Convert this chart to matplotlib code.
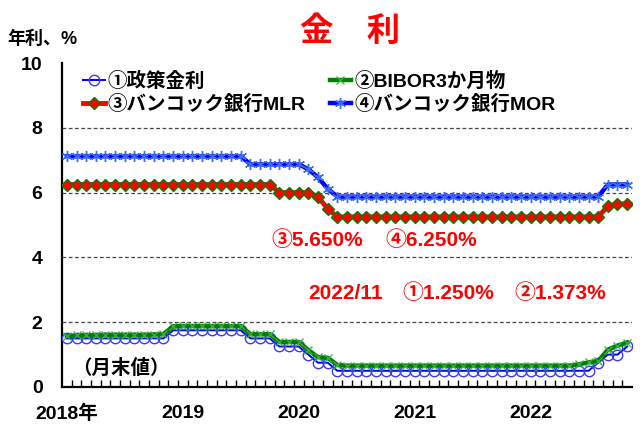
import numpy as np
import matplotlib
matplotlib.use("Agg")
import matplotlib.pyplot as plt

plt.rcParams['font.family'] = ['Liberation Sans', 'Noto Sans CJK JP', 'DejaVu Sans']
plt.rcParams['font.weight'] = 'bold'

# 月末値 2018/01 - 2022/11
months = [f"{y}/{m:02d}" for y in range(2018, 2023) for m in range(1, 13)][:59]

policy = [1.50, 1.50, 1.50, 1.50, 1.50, 1.50, 1.50, 1.50, 1.50, 1.50, 1.50, 1.75,
          1.75, 1.75, 1.75, 1.75, 1.75, 1.75, 1.75, 1.50, 1.50, 1.50, 1.25, 1.25,
          1.25, 1.00, 0.75, 0.75, 0.50, 0.50, 0.50, 0.50, 0.50, 0.50, 0.50, 0.50,
          0.50, 0.50, 0.50, 0.50, 0.50, 0.50, 0.50, 0.50, 0.50, 0.50, 0.50, 0.50,
          0.50, 0.50, 0.50, 0.50, 0.50, 0.50, 0.50, 0.75, 1.00, 1.00, 1.25]

bibor = [1.58, 1.59, 1.60, 1.60, 1.61, 1.61, 1.61, 1.61, 1.61, 1.62, 1.63, 1.87,
         1.88, 1.88, 1.88, 1.88, 1.88, 1.88, 1.88, 1.63, 1.63, 1.63, 1.39, 1.39,
         1.39, 1.14, 0.92, 0.90, 0.68, 0.66, 0.66, 0.66, 0.66, 0.66, 0.66, 0.66,
         0.66, 0.66, 0.66, 0.66, 0.66, 0.66, 0.66, 0.66, 0.66, 0.66, 0.66, 0.66,
         0.66, 0.66, 0.66, 0.66, 0.66, 0.70, 0.76, 0.80, 1.15, 1.28, 1.373]

mlr = [6.25, 6.25, 6.25, 6.25, 6.25, 6.25, 6.25, 6.25, 6.25, 6.25, 6.25, 6.25,
       6.25, 6.25, 6.25, 6.25, 6.25, 6.25, 6.25, 6.25, 6.25, 6.25, 6.00, 6.00,
       6.00, 6.00, 5.87, 5.50, 5.25, 5.25, 5.25, 5.25, 5.25, 5.25, 5.25, 5.25,
       5.25, 5.25, 5.25, 5.25, 5.25, 5.25, 5.25, 5.25, 5.25, 5.25, 5.25, 5.25,
       5.25, 5.25, 5.25, 5.25, 5.25, 5.25, 5.25, 5.25, 5.585, 5.65, 5.65]

mor = [7.125, 7.125, 7.125, 7.125, 7.125, 7.125, 7.125, 7.125, 7.125, 7.125, 7.125, 7.125,
       7.125, 7.125, 7.125, 7.125, 7.125, 7.125, 7.125, 6.875, 6.875, 6.875, 6.875, 6.875,
       6.875, 6.72, 6.47, 6.12, 5.875, 5.875, 5.875, 5.875, 5.875, 5.875, 5.875, 5.875,
       5.875, 5.875, 5.875, 5.875, 5.875, 5.875, 5.875, 5.875, 5.875, 5.875, 5.875, 5.875,
       5.875, 5.875, 5.875, 5.875, 5.875, 5.875, 5.875, 5.875, 6.25, 6.25, 6.25]

year_labels = ["2018年", "2019", "2020", "2021", "2022"]
year_pos = [months.index(f"{y[:4]}/01") for y in year_labels]

x = np.arange(len(months))

fig = plt.figure(figsize=(6.42, 4.28), dpi=100)
ax = fig.add_axes([0.0966, 0.0958, 0.8878, 0.757])

for yv in [2, 4, 6, 8]:
    ax.axhline(yv, color="#444444", lw=0.9, ls=(0, (3, 2)), zorder=1)

h1, = ax.plot(x, policy, "-", color="#0000ff", lw=1.4, marker="o", ms=7.5,
              mfc="none", mec="#3a3aff", mew=1.0, label="①政策金利", zorder=3)
h2, = ax.plot(x, bibor, "-", color="#008000", lw=3.2, marker="x", ms=6,
              mec="#3cb043", mew=0.9, label="②BIBOR3か月物", zorder=4)
h3, = ax.plot(x, mlr, "-", color="#ff0000", lw=3.5, marker="D", ms=6,
              mfc="#ff0000", mec="#008000", mew=1.0, label="③バンコック銀行MLR", zorder=5)
h4, = ax.plot(x, mor, "-", color="#0000ff", lw=3.2, marker=(6, 2, 0), ms=8,
              mec="#3a6aff", mew=1.0, label="④バンコック銀行MOR", zorder=6)

ax.set_xlim(-0.5, len(months) - 0.5)
ax.set_ylim(0, 10)
ax.set_yticks([0, 2, 4, 6, 8, 10])
ax.tick_params(axis="y", length=0, labelsize=14, pad=14)
ax.set_xticks(year_pos)
ax.set_xticklabels(year_labels, fontsize=14)
ax.tick_params(axis="x", which="major", length=0, pad=13)
ax.set_xticks(np.arange(0.5, len(months) - 1, 1), minor=True)
ax.tick_params(axis="x", which="minor", direction="in", length=5, width=1, color="black")
for s in ["top", "right"]:
    ax.spines[s].set_visible(False)
ax.spines["left"].set_linewidth(1.6)
ax.spines["bottom"].set_linewidth(1.6)

leg = ax.legend([h1, h3, h2, h4], [h1.get_label(), h3.get_label(), h2.get_label(), h4.get_label()],
                ncol=2, loc="upper left", bbox_to_anchor=(0.020, 1.003), frameon=False,
                borderpad=0, fontsize=14, handlelength=1.1, handletextpad=0.15,
                columnspacing=1.25, labelspacing=0.2)

fig.text(0.545, 0.925, "金　利", color="#ff0000", fontsize=24, ha="center", va="center",
         fontweight="bold")
fig.text(0.012, 0.908, "年利、%", fontsize=13, ha="left", va="center", fontweight="bold")

red_txt = [("③5.650%", 0.368, 0.454), ("④6.250%", 0.568, 0.454),
           ("2022/11", 0.432, 0.290), ("①1.250%", 0.598, 0.290), ("②1.373%", 0.794, 0.290)]
for t, tx, ty in red_txt:
    ax.text(tx, ty, t, transform=ax.transAxes, color="#ff0000",
            fontsize=15, ha="left", va="center")
ax.text(0.018, 0.059, "（月末値）", transform=ax.transAxes, color="black",
        fontsize=14, ha="left", va="center")

fig.savefig("out.png", dpi=100)
